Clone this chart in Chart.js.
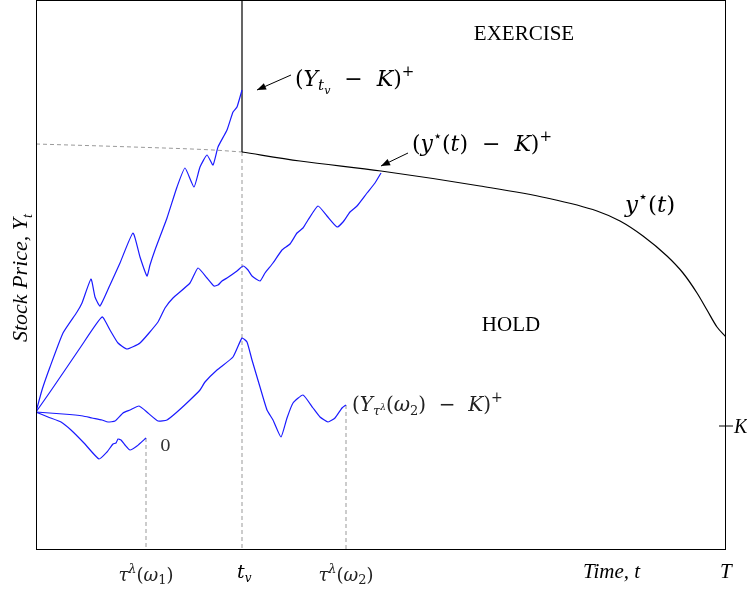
<!DOCTYPE html>
<html>
<head>
<meta charset="UTF-8" />
<title>Exercise boundary</title>
<script src="https://cdn.jsdelivr.net/npm/chart.js"></script>
<style>
  *{box-sizing:border-box}
  body{margin:0;background:#fff;}
  #wrap{width:747px;height:592px;}
</style>
</head>
<body>
<div id="wrap"><canvas id="c" width="747" height="592"></canvas></div>
<script>
// time runs 0..T_END, price 0..P_MAX (arbitrary units)
const T_END = 690, P_MAX = 550;
const K_LEVEL = 124;
const T_V = 206;

// simulated price paths [t, Y]
const pathA = [[0,138],[6,160],[14,183],[27,217],[41,238],[46,247],[55,271],[59,253],[64,244],[74,265],[84,287],[97,317],[104,293],[111,274],[114,285],[119,300],[131,332],[141,363],[149,382],[158,363],[164,383],[171,395],[177,385],[182,403],[191,420],[197,438],[201,443],[206,460]];
const pathB = [[0,138],[14,158],[27,177],[44,202],[66,233],[74,220],[82,207],[91,201],[104,207],[122,228],[129,242],[137,252],[154,267],[162,282],[171,272],[178,264],[182,265],[186,269],[191,272],[201,279],[207,284],[212,280],[216,274],[224,269],[229,277],[237,287],[246,300],[254,306],[261,317],[267,322],[272,330],[282,344],[291,334],[301,323],[307,328],[314,338],[321,344],[331,357],[339,367],[345,377]];
const pathC = [[0,138],[27,136],[47,134],[56,132],[66,130],[72,128],[79,129],[87,137],[94,140],[103,144],[112,137],[122,129],[131,130],[141,138],[154,150],[164,160],[169,168],[181,180],[197,193],[206,212],[211,208],[216,190],[224,163],[231,140],[237,130],[245,113],[251,132],[257,147],[267,155],[277,142],[284,133],[292,128],[299,132],[306,142],[310,145]];
const pathD = [[0,138],[12,133],[25,128],[35,120],[48,107],[63,91],[71,98],[77,106],[80,107],[82,111],[85,110],[89,105],[94,100],[101,104],[110,112]];

// exercise boundary y*(t)
const yStar = [[206,398],[264,389],[345,379],[444,364],[511,352],[561,339],[584,329],[607,314],[631,294],[647,277],[661,257],[671,240],[681,223],[690,213]];
const yStarExt = [[0,406],[97,403],[177,400],[206,398]];

const pts = a => a.map(p => ({x:p[0], y:p[1]}));
const last = a => a[a.length-1];

const BLUE = '#1a1aff', GREY = '#999999';
function line(data, color, extra){
  return Object.assign({data: pts(data), borderColor: color, borderWidth: 1.2, pointRadius: 0, showLine: true, fill: false, tension: 0}, extra||{});
}

const datasets = [
  line(pathA, BLUE, {tension:0.15}),
  line(pathB, BLUE, {tension:0.15}),
  line(pathC, BLUE, {tension:0.15}),
  line(pathD, BLUE, {tension:0.15}),
  line([[T_V,P_MAX],[T_V,398]], '#000'),
  line(yStar, '#000', {cubicInterpolationMode:'monotone'}),
  line(yStarExt, GREY, {borderDash:[4,3], borderWidth:1, cubicInterpolationMode:'monotone'}),
  line([last(pathD),[last(pathD)[0],0]], GREY, {borderDash:[4,3], borderWidth:1}),
  line([[T_V,398],[T_V,0]], GREY, {borderDash:[4,3], borderWidth:1}),
  line([last(pathC),[last(pathC)[0],0]], GREY, {borderDash:[4,3], borderWidth:1})
];

const MATH = '"DejaVu Serif"', TEXT = '"Liberation Serif"';
// draw text made of runs: [text, size, italic, dy, family]
function runs(ctx, x, y, parts, color){
  ctx.fillStyle = color || '#000';
  ctx.textBaseline = 'alphabetic';
  ctx.textAlign = 'left';
  let cx = x;
  for (const p of parts){
    ctx.font = (p[2] ? 'italic ' : '') + p[1] + 'px ' + (p[4] || MATH);
    ctx.fillText(p[0], cx, y + (p[3]||0));
    cx += ctx.measureText(p[0]).width;
  }
  return cx - x;
}
function arrow(ctx, x1, y1, x2, y2){
  ctx.strokeStyle = '#000'; ctx.fillStyle = '#000'; ctx.lineWidth = 1;
  ctx.beginPath(); ctx.moveTo(x1,y1); ctx.lineTo(x2,y2); ctx.stroke();
  const a = Math.atan2(y2-y1, x2-x1), L = 9, W = 3.5;
  ctx.beginPath();
  ctx.moveTo(x2,y2);
  ctx.lineTo(x2 - L*Math.cos(a) + W*Math.sin(a), y2 - L*Math.sin(a) - W*Math.cos(a));
  ctx.lineTo(x2 - L*Math.cos(a) - W*Math.sin(a), y2 - L*Math.sin(a) + W*Math.cos(a));
  ctx.closePath(); ctx.fill();
}
const tau = d => [['τ',18,true],['λ',13,true,-8],['(',18],['ω',18,true],[d,13,false,3],[')',18]];
const star = s => ['⋆', s, false, -10];

const labels = {
  id: 'labels',
  afterDatasetsDraw(chart){
    const ctx = chart.ctx, xs = chart.scales.x, ys = chart.scales.y, a = chart.chartArea;
    const X = v => xs.getPixelForValue(v), Y = v => ys.getPixelForValue(v);
    ctx.save();
    // frame
    ctx.strokeStyle = '#000'; ctx.lineWidth = 1;
    ctx.strokeRect(a.left+0.5, a.top+0.5, a.right-a.left-1, a.bottom-a.top-1);
    // K tick on right edge
    ctx.beginPath(); ctx.moveTo(a.right-7, Y(K_LEVEL)); ctx.lineTo(a.right+7, Y(K_LEVEL)); ctx.stroke();
    runs(ctx, a.right+8, Y(K_LEVEL)+7, [['K',20,true,0,TEXT]]);

    // region labels
    ctx.font = '21px ' + TEXT; ctx.textAlign = 'center'; ctx.fillStyle = '#000';
    ctx.fillText('EXERCISE', X(488), 40);
    ctx.fillText('HOLD', X(475), 331);

    // arrows
    const eA = last(pathA), eB = last(pathB);
    arrow(ctx, 291, 75, X(eA[0])+15, Y(eA[1]));
    arrow(ctx, 408, 153, X(eB[0]), Y(eB[1])-7);

    runs(ctx, 295, 86, [['(',22],['Y',22,true],['t',15,true,4],['v',11,true,8],['  −  ',22],['K',22,true],[')',22],['+',15,false,-10]]);
    runs(ctx, 412, 151, [['(',22],['y',22,true],star(15),['(',22],['t',22,true],[')',22],['  −  ',22],['K',22,true],[')',22],['+',15,false,-10]]);
    runs(ctx, 625, 212, [['y',23,true],star(16),['(',23],['t',23,true],[')',23]]);
    runs(ctx, 352, 411, [['(',20],['Y',20,true],['τ',13,true,4],['λ',9,true,-1],['(',20],['ω',20,true],['2',13,false,4],[')',20],['  −  ',20],['K',20,true],[')',20],['+',14,false,-9]], '#222');
    runs(ctx, 160, 451, [['0',17]], '#333');

    // bottom labels
    const by = 581;
    const w1 = runs(ctx, -1000, by, tau('1'));
    runs(ctx, X(last(pathD)[0]) - w1/2, by, tau('1'), '#222');
    runs(ctx, X(T_V)-5, 578, [['t',19,true],['v',12,true,4]]);
    const w2 = runs(ctx, -1000, by, tau('2'));
    runs(ctx, X(last(pathC)[0]) - w2/2, by, tau('2'), '#222');
    runs(ctx, 583, 578, [['Time, t',21,true,0,TEXT]]);
    runs(ctx, X(T_END)-6, 578, [['T',21,true,0,TEXT]]);

    // y axis title
    ctx.translate(27, 277);
    ctx.rotate(-Math.PI/2);
    ctx.font = 'italic 22px ' + TEXT;
    const w = ctx.measureText('Stock Price, Y').width + 6;
    runs(ctx, -w/2, 0, [['Stock Price, Y',22,true,0,TEXT],['t',14,true,5,TEXT]]);
    ctx.restore();
  }
};

new Chart(document.getElementById('c'), {
  type: 'scatter',
  data: { datasets },
  options: {
    responsive: false,
    animation: false,
    devicePixelRatio: 1,
    layout: { padding: { left: 36, right: 21, top: 0, bottom: 42 } },
    plugins: { legend: { display: false }, tooltip: { enabled: false } },
    scales: {
      x: { type: 'linear', min: 0, max: T_END, display: false },
      y: { type: 'linear', min: 0, max: P_MAX, display: false }
    }
  },
  plugins: [labels]
});
</script>
</body>
</html>
